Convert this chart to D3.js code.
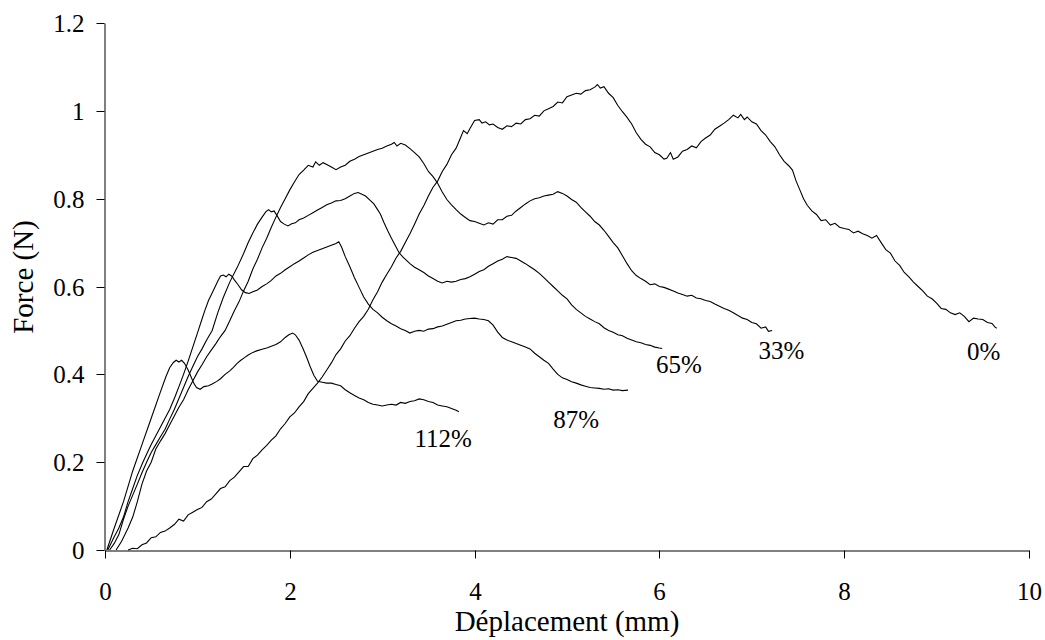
<!DOCTYPE html>
<html>
<head>
<meta charset="utf-8">
<script src="https://cdn.jsdelivr.net/npm/d3@7"></script>
<style>
  html, body { margin: 0; padding: 0; background: #fff; }
  svg { display: block; }
  text { font-family: "Liberation Serif", "Times New Roman", serif; fill: #000; }
</style>
</head>
<body>
<svg id="chart" width="1045" height="640"></svg>
<script>
// Force–displacement curves, one per level (displacement mm, force N)
const curve0 = [
  [0.25,0],[0.3,0.004],[0.35,0.003],[0.4,0.012],[0.45,0.016],[0.5,0.028],[0.55,0.03],[0.6,0.04],[0.65,0.043],
  [0.7,0.05],[0.75,0.058],[0.8,0.07],[0.85,0.066],[0.9,0.08],[0.95,0.086],[1.0,0.092],[1.05,0.097],[1.1,0.11],
  [1.15,0.116],[1.2,0.128],[1.25,0.14],[1.3,0.144],[1.35,0.158],[1.4,0.166],[1.45,0.178],[1.5,0.19],[1.55,0.19],
  [1.6,0.208],[1.65,0.216],[1.7,0.228],[1.75,0.238],[1.8,0.25],[1.85,0.26],[1.9,0.276],[1.95,0.288],[2.0,0.303],
  [2.05,0.312],[2.1,0.326],[2.15,0.338],[2.2,0.356],[2.25,0.368],[2.3,0.38],[2.35,0.394],[2.4,0.41],[2.45,0.426],
  [2.5,0.445],[2.55,0.458],[2.6,0.476],[2.65,0.488],[2.7,0.505],[2.75,0.52],[2.8,0.532],[2.85,0.548],[2.9,0.57],
  [2.95,0.588],[3.0,0.61],[3.05,0.628],[3.1,0.645],[3.15,0.665],[3.2,0.68],[3.25,0.7],[3.3,0.72],[3.35,0.742],
  [3.4,0.765],[3.45,0.784],[3.5,0.806],[3.55,0.826],[3.6,0.84],[3.65,0.862],[3.7,0.878],[3.75,0.9],[3.8,0.915],
  [3.85,0.94],[3.88,0.955],[3.92,0.948],[3.95,0.96],[4.0,0.978],[4.05,0.98],[4.08,0.972],[4.12,0.975],[4.16,0.968],
  [4.2,0.97],[4.25,0.962],[4.3,0.958],[4.35,0.966],[4.4,0.964],[4.45,0.972],[4.5,0.97],[4.55,0.98],[4.6,0.982],
  [4.65,0.99],[4.7,0.988],[4.75,1.0],[4.8,1.005],[4.85,1.01],[4.9,1.02],[4.95,1.018],[5.0,1.032],[5.05,1.036],
  [5.1,1.04],[5.15,1.038],[5.2,1.046],[5.25,1.048],[5.3,1.054],[5.33,1.06],[5.36,1.052],[5.4,1.055],[5.45,1.04],
  [5.5,1.03],[5.55,1.012],[5.6,0.998],[5.65,0.985],[5.7,0.97],[5.75,0.95],[5.8,0.935],[5.85,0.924],[5.9,0.918],
  [5.95,0.905],[6.0,0.9],[6.05,0.89],[6.08,0.892],[6.12,0.905],[6.15,0.89],[6.2,0.895],[6.25,0.908],[6.3,0.912],
  [6.35,0.92],[6.4,0.916],[6.45,0.93],[6.5,0.938],[6.55,0.945],[6.6,0.958],[6.65,0.965],[6.7,0.972],[6.75,0.98],
  [6.8,0.99],[6.85,0.984],[6.88,0.992],[6.92,0.98],[6.95,0.986],[7.0,0.975],[7.05,0.97],[7.1,0.955],[7.15,0.945],
  [7.2,0.93],[7.25,0.918],[7.3,0.9],[7.35,0.885],[7.4,0.875],[7.44,0.865],[7.48,0.84],[7.52,0.82],[7.56,0.8],
  [7.6,0.785],[7.65,0.772],[7.7,0.764],[7.75,0.75],[7.8,0.752],[7.85,0.74],[7.9,0.744],[7.95,0.735],[8.0,0.732],
  [8.05,0.73],[8.1,0.722],[8.15,0.726],[8.2,0.72],[8.25,0.716],[8.3,0.71],[8.35,0.716],[8.4,0.7],[8.45,0.684],
  [8.5,0.676],[8.55,0.658],[8.6,0.648],[8.65,0.632],[8.7,0.622],[8.75,0.61],[8.8,0.6],[8.85,0.59],[8.9,0.578],
  [8.95,0.572],[9.0,0.562],[9.05,0.55],[9.1,0.548],[9.15,0.54],[9.2,0.536],[9.25,0.54],[9.3,0.532],[9.35,0.52],
  [9.4,0.528],[9.45,0.526],[9.5,0.525],[9.55,0.518],[9.6,0.516],[9.63,0.508],[9.65,0.505]
];
const curve33 = [
  [0.12,0],[0.18,0.02],[0.25,0.05],[0.3,0.075],[0.35,0.11],[0.4,0.15],[0.45,0.18],[0.5,0.2],[0.55,0.23],
  [0.6,0.248],[0.65,0.265],[0.7,0.285],[0.75,0.305],[0.8,0.325],[0.85,0.342],[0.9,0.365],[0.95,0.385],
  [1.0,0.405],[1.05,0.422],[1.1,0.44],[1.15,0.455],[1.2,0.47],[1.25,0.486],[1.3,0.5],[1.35,0.522],[1.4,0.545],
  [1.45,0.565],[1.5,0.59],[1.55,0.612],[1.6,0.64],[1.65,0.662],[1.7,0.688],[1.75,0.71],[1.8,0.735],[1.85,0.758],
  [1.9,0.78],[1.95,0.8],[2.0,0.82],[2.05,0.838],[2.1,0.855],[2.15,0.865],[2.2,0.876],[2.25,0.872],[2.28,0.884],
  [2.32,0.876],[2.36,0.882],[2.4,0.878],[2.45,0.872],[2.5,0.866],[2.55,0.872],[2.6,0.876],[2.65,0.885],[2.7,0.89],
  [2.75,0.896],[2.8,0.9],[2.85,0.904],[2.9,0.908],[2.95,0.912],[3.0,0.915],[3.05,0.92],[3.1,0.924],[3.13,0.928],
  [3.16,0.92],[3.2,0.926],[3.25,0.922],[3.3,0.914],[3.35,0.905],[3.4,0.895],[3.45,0.88],[3.5,0.862],[3.55,0.85],
  [3.6,0.835],[3.65,0.815],[3.7,0.798],[3.75,0.786],[3.8,0.775],[3.85,0.765],[3.9,0.757],[3.95,0.75],[4.0,0.748],
  [4.05,0.744],[4.1,0.74],[4.15,0.745],[4.2,0.742],[4.25,0.752],[4.3,0.752],[4.35,0.76],[4.4,0.762],[4.45,0.772],
  [4.5,0.78],[4.55,0.788],[4.6,0.795],[4.65,0.8],[4.7,0.802],[4.75,0.806],[4.8,0.808],[4.85,0.81],[4.9,0.816],
  [4.95,0.812],[5.0,0.806],[5.05,0.798],[5.1,0.792],[5.15,0.78],[5.2,0.77],[5.25,0.76],[5.3,0.748],[5.35,0.74],
  [5.4,0.728],[5.45,0.714],[5.5,0.7],[5.55,0.688],[5.6,0.67],[5.65,0.652],[5.7,0.636],[5.75,0.625],[5.8,0.618],
  [5.85,0.612],[5.9,0.604],[5.95,0.606],[6.0,0.6],[6.05,0.598],[6.1,0.594],[6.15,0.59],[6.2,0.585],[6.25,0.582],
  [6.3,0.578],[6.35,0.58],[6.4,0.574],[6.45,0.572],[6.5,0.568],[6.55,0.566],[6.6,0.56],[6.65,0.555],[6.7,0.55],
  [6.75,0.546],[6.8,0.54],[6.85,0.534],[6.9,0.528],[6.95,0.525],[7.0,0.518],[7.05,0.515],[7.1,0.505],
  [7.15,0.508],[7.18,0.498],[7.22,0.5]
];
const curve65 = [
  [0.05,0],[0.1,0.015],[0.15,0.035],[0.2,0.07],[0.25,0.1],[0.3,0.125],[0.35,0.15],[0.4,0.176],[0.45,0.2],
  [0.5,0.222],[0.55,0.24],[0.6,0.258],[0.65,0.275],[0.7,0.298],[0.75,0.32],[0.8,0.345],[0.85,0.37],[0.9,0.395],
  [0.95,0.418],[1.0,0.44],[1.05,0.458],[1.1,0.478],[1.16,0.5],[1.22,0.54],[1.28,0.575],[1.35,0.61],[1.43,0.643],
  [1.5,0.675],[1.55,0.7],[1.6,0.722],[1.65,0.742],[1.7,0.758],[1.74,0.77],[1.77,0.775],[1.8,0.77],[1.83,0.772],
  [1.86,0.762],[1.9,0.748],[1.94,0.742],[1.98,0.738],[2.02,0.743],[2.06,0.745],[2.1,0.752],[2.15,0.756],
  [2.2,0.762],[2.25,0.768],[2.3,0.774],[2.35,0.78],[2.4,0.786],[2.45,0.79],[2.5,0.795],[2.55,0.796],[2.6,0.8],
  [2.65,0.806],[2.7,0.812],[2.74,0.814],[2.78,0.81],[2.82,0.806],[2.87,0.796],[2.91,0.788],[2.95,0.775],
  [2.98,0.765],[3.02,0.745],[3.06,0.727],[3.1,0.71],[3.14,0.694],[3.18,0.678],[3.22,0.668],[3.26,0.66],
  [3.3,0.652],[3.35,0.644],[3.4,0.638],[3.45,0.632],[3.5,0.624],[3.55,0.618],[3.6,0.612],[3.65,0.608],
  [3.7,0.612],[3.75,0.61],[3.8,0.612],[3.85,0.616],[3.9,0.618],[3.95,0.622],[4.0,0.628],[4.05,0.634],
  [4.1,0.638],[4.15,0.646],[4.2,0.652],[4.25,0.658],[4.3,0.662],[4.35,0.668],[4.4,0.666],[4.45,0.664],
  [4.5,0.658],[4.55,0.652],[4.6,0.645],[4.65,0.638],[4.7,0.63],[4.75,0.62],[4.8,0.61],[4.85,0.6],[4.9,0.59],
  [4.95,0.58],[5.0,0.572],[5.05,0.558],[5.1,0.548],[5.15,0.54],[5.2,0.532],[5.25,0.526],[5.3,0.52],[5.35,0.515],
  [5.4,0.506],[5.45,0.5],[5.5,0.496],[5.55,0.49],[5.6,0.488],[5.65,0.482],[5.7,0.478],[5.75,0.474],[5.8,0.472],
  [5.85,0.468],[5.9,0.466],[5.95,0.462],[6.0,0.46],[6.03,0.459]
];
const curve87 = [
  [0.03,0],[0.1,0.03],[0.15,0.05],[0.2,0.075],[0.25,0.11],[0.3,0.14],[0.35,0.17],[0.41,0.2],[0.45,0.218],
  [0.5,0.24],[0.55,0.26],[0.6,0.28],[0.65,0.3],[0.7,0.32],[0.76,0.35],[0.8,0.372],[0.85,0.4],[0.9,0.43],
  [0.95,0.462],[1.01,0.5],[1.05,0.526],[1.08,0.545],[1.12,0.568],[1.17,0.59],[1.22,0.612],[1.25,0.624],
  [1.28,0.626],[1.31,0.622],[1.34,0.628],[1.37,0.624],[1.4,0.615],[1.44,0.604],[1.48,0.592],[1.52,0.586],
  [1.56,0.584],[1.6,0.588],[1.65,0.592],[1.7,0.6],[1.75,0.606],[1.8,0.614],[1.85,0.624],[1.9,0.63],[1.95,0.638],
  [2.0,0.645],[2.05,0.652],[2.1,0.658],[2.15,0.665],[2.2,0.672],[2.25,0.678],[2.3,0.682],[2.35,0.686],[2.4,0.69],
  [2.45,0.694],[2.5,0.698],[2.53,0.702],[2.56,0.69],[2.6,0.668],[2.65,0.645],[2.7,0.62],[2.75,0.598],[2.8,0.576],
  [2.85,0.56],[2.9,0.548],[2.95,0.54],[3.0,0.53],[3.05,0.522],[3.1,0.515],[3.15,0.51],[3.2,0.504],[3.25,0.5],
  [3.3,0.494],[3.35,0.498],[3.4,0.5],[3.45,0.498],[3.5,0.503],[3.55,0.504],[3.6,0.508],[3.65,0.51],[3.7,0.514],
  [3.75,0.518],[3.8,0.522],[3.85,0.523],[3.9,0.526],[3.95,0.527],[4.0,0.528],[4.05,0.526],[4.1,0.525],
  [4.15,0.522],[4.2,0.512],[4.25,0.496],[4.3,0.484],[4.35,0.478],[4.4,0.474],[4.45,0.47],[4.5,0.466],
  [4.55,0.462],[4.6,0.458],[4.65,0.448],[4.7,0.44],[4.75,0.432],[4.8,0.425],[4.85,0.412],[4.9,0.4],[4.95,0.392],
  [5.0,0.388],[5.05,0.383],[5.1,0.38],[5.15,0.376],[5.2,0.373],[5.25,0.37],[5.3,0.369],[5.35,0.368],[5.4,0.366],
  [5.45,0.367],[5.5,0.364],[5.55,0.365],[5.6,0.363],[5.66,0.364]
];
const curve112 = [
  [0.02,0],[0.1,0.05],[0.2,0.11],[0.3,0.18],[0.4,0.24],[0.5,0.3],[0.6,0.36],[0.66,0.395],[0.7,0.415],
  [0.74,0.427],[0.77,0.432],[0.8,0.428],[0.83,0.432],[0.86,0.425],[0.9,0.41],[0.93,0.395],[0.96,0.38],
  [0.99,0.37],[1.03,0.366],[1.07,0.372],[1.12,0.374],[1.16,0.378],[1.21,0.384],[1.25,0.39],[1.3,0.4],
  [1.35,0.408],[1.39,0.416],[1.43,0.425],[1.47,0.432],[1.51,0.438],[1.55,0.444],[1.6,0.45],[1.65,0.454],
  [1.7,0.457],[1.75,0.46],[1.8,0.464],[1.85,0.468],[1.9,0.474],[1.95,0.484],[1.99,0.49],[2.03,0.494],
  [2.06,0.49],[2.1,0.478],[2.14,0.46],[2.18,0.44],[2.22,0.418],[2.26,0.398],[2.3,0.384],[2.35,0.382],
  [2.4,0.38],[2.45,0.38],[2.5,0.377],[2.55,0.374],[2.6,0.365],[2.65,0.358],[2.7,0.352],[2.75,0.346],
  [2.8,0.342],[2.85,0.336],[2.9,0.332],[2.95,0.33],[3.0,0.328],[3.05,0.33],[3.1,0.332],[3.15,0.33],[3.2,0.336],
  [3.25,0.334],[3.3,0.338],[3.35,0.34],[3.4,0.344],[3.45,0.342],[3.5,0.338],[3.55,0.336],[3.6,0.33],
  [3.65,0.328],[3.7,0.326],[3.75,0.322],[3.8,0.318],[3.83,0.315]
];

const seriesNames = ["0%", "33%", "65%", "87%", "112%"];
const seriesData = [curve0, curve33, curve65, curve87, curve112];
// label anchor for each curve, in data units (displacement, force)
const labelX = [9.51, 7.32, 6.21, 5.10, 3.66];
const labelY = [0.453, 0.455, 0.4235, 0.298, 0.254];

const xTicks = [0, 2, 4, 6, 8, 10];
const yTicks = [0, 0.2, 0.4, 0.6, 0.8, 1, 1.2];

const svg = d3.select("#chart");
const plotLeft = 105, plotRight = 1029, plotTop = 23, plotBottom = 550;

const x = d3.scaleLinear().domain([0, 10]).range([plotLeft, plotRight]);
const y = d3.scaleLinear().domain([0, 1.2]).range([plotBottom, plotTop]);

const serif = "'Liberation Serif', 'Times New Roman', serif";

// axes
const xAxis = d3.axisBottom(x).tickValues(xTicks).tickFormat(d3.format("d"))
  .tickSizeInner(8).tickSizeOuter(0).tickPadding(23.5);
const yAxis = d3.axisLeft(y).tickValues(yTicks).tickFormat(d => d3.format("~g")(d))
  .tickSizeInner(8).tickSizeOuter(0).tickPadding(12);

const gx = svg.append("g").attr("transform", `translate(0,${plotBottom + 0.5})`).call(xAxis);
const gy = svg.append("g").attr("transform", `translate(${plotLeft - 0.5},0)`).call(yAxis);
[gx, gy].forEach(g => {
  g.select(".domain").attr("stroke", "#000").attr("stroke-width", 1);
  g.selectAll(".tick line").attr("stroke", "#000");
  g.selectAll(".tick text").style("font-family", serif)
    .style("font-size", "25px").attr("fill", "#000");
});
gy.selectAll(".tick").attr("transform", d => `translate(0,${Math.round(y(d)) + 0.5})`);
gx.selectAll(".tick").attr("transform", d => `translate(${Math.round(x(d)) + 0.5},0)`);

// curves
const line = d3.line().x(d => x(d[0])).y(d => y(d[1]));
svg.append("g").selectAll("path").data(seriesData).join("path")
  .attr("d", line)
  .attr("fill", "none")
  .attr("stroke", "#000")
  .attr("stroke-width", 1.1)
  .attr("stroke-linejoin", "miter");

// curve labels
svg.append("g").selectAll("text").data(seriesNames).join("text")
  .attr("x", (d, i) => x(labelX[i]))
  .attr("y", (d, i) => y(labelY[i]))
  .attr("text-anchor", "middle")
  .attr("dominant-baseline", "central")
  .style("font-size", "25px")
  .text(d => d);

// axis titles
svg.append("text")
  .attr("x", (plotLeft + plotRight) / 2)
  .attr("y", 631)
  .attr("text-anchor", "middle")
  .style("font-size", "29px")
  .text("Déplacement (mm)");

svg.append("text")
  .attr("transform", "translate(33,277) rotate(-90)")
  .attr("text-anchor", "middle")
  .style("font-size", "29px")
  .text("Force (N)");
</script>
</body>
</html>
